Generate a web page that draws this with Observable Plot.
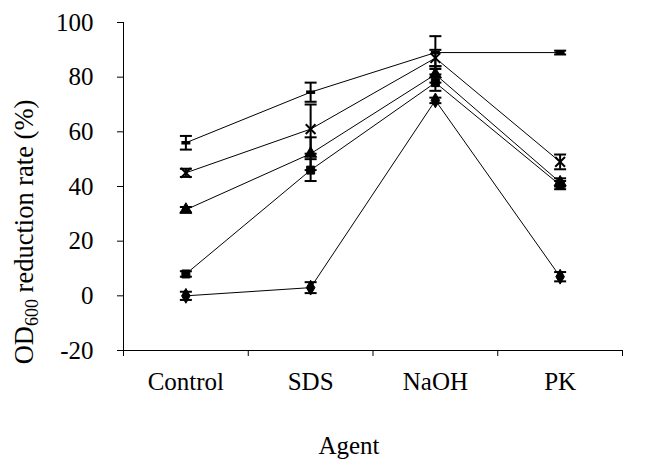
<!DOCTYPE html>
<html>
<head>
<meta charset="utf-8">
<script src="https://cdn.jsdelivr.net/npm/d3@7"></script>
<script src="https://cdn.jsdelivr.net/npm/@observablehq/plot@0.6"></script>
<style>
  html, body { margin: 0; padding: 0; background: white; }
  #chart svg { display: block; }
</style>
</head>
<body>
<div id="chart"></div>
<script>
const categories = ["Control", "SDS", "NaOH", "PK"];
const yTicks = [-20, 0, 20, 40, 60, 80, 100];
const seriesNames = ["Series 1", "Series 2", "Series 3", "Series 4", "Series 5"];
const s1 = [56, 74.5, 89, 89];
const s2 = [45, 61, 87, 49];
const s3 = [31.5, 52, 81, 41.5];
const s4 = [8, 46, 78, 40.5];
const s5 = [0, 3, 71.5, 7];
const e1 = [2.5, 3.5, 6, 0.7];
const e2 = [1.5, 9, 3, 2.7];
const e3 = [1, 6, 3, 1.5];
const e4 = [1, 4, 3, 1.5];
const e5 = [1.5, 2, 1, 1.7];
const xLabel = "Agent";
const yLabelMain = "OD";
const yLabelSub = "600";
const yLabelRest = " reduction rate (%)";

const FONT = "Liberation Serif";

const values = [s1, s2, s3, s4, s5];
const errors = [e1, e2, e3, e4, e5];
const data = [];
seriesNames.forEach((name, k) => {
  categories.forEach((c, i) => {
    data.push({series: name, cat: c, xc: i + 0.5, v: values[k][i], e: errors[k][i]});
  });
});

const hline = {
  draw(context, size) {
    const r = Math.sqrt(size / Math.PI);
    context.moveTo(-r, 0);
    context.lineTo(r, 0);
  }
};

const symbols = [hline, "times", "triangle", "square", "diamond"];
const centers = categories.map((c, i) => i + 0.5);
const edges = d3.range(categories.length + 1);

const markerMarks = seriesNames.map((name, k) => {
  const d = data.filter(r => r.series === name);
  const sym = symbols[k];
  if (sym === hline) {
    return Plot.dot(d, {x: "xc", y: "v", symbol: hline, r: 4.5, stroke: "black", strokeWidth: 3.5});
  } else if (sym === "times") {
    return Plot.dot(d, {x: "xc", y: "v", symbol: "times", r: 4.5, stroke: "black", strokeWidth: 2});
  } else {
    return Plot.dot(d, {x: "xc", y: "v", symbol: sym, r: 4.5, fill: "black", stroke: "black", strokeWidth: 1});
  }
});

const chart = Plot.plot({
  width: 654,
  height: 459,
  marginTop: 22,
  marginBottom: 109,
  marginLeft: 123,
  marginRight: 32,
  style: {fontFamily: FONT, fontSize: "25px", background: "white", color: "black"},
  x: {domain: [0, categories.length]},
  y: {domain: [-20, 100]},
  marks: [
    Plot.axisY({ticks: yTicks, tickSize: 6, tickPadding: 24, tickFormat: d => String(d), label: null, fontSize: 25}),
    Plot.axisX({ticks: edges, tickSize: 6, tickFormat: () => "", label: null}),
    Plot.axisX({ticks: centers, tickSize: 0, tickPadding: 22, tickFormat: v => categories[Math.floor(v)], label: null, fontSize: 25}),
    Plot.ruleX([0], {stroke: "black"}),
    Plot.ruleY([-20], {stroke: "black"}),
    Plot.line(data, {x: "xc", y: "v", z: "series", stroke: "black", strokeWidth: 1}),
    Plot.ruleX(data, {x: "xc", y1: d => d.v - d.e, y2: d => d.v + d.e, stroke: "black", strokeWidth: 2}),
    Plot.dot(data, {x: "xc", y: d => d.v + d.e, symbol: hline, r: 6, stroke: "black", strokeWidth: 2}),
    Plot.dot(data, {x: "xc", y: d => d.v - d.e, symbol: hline, r: 6, stroke: "black", strokeWidth: 2}),
    ...markerMarks
  ]
});

const svg = d3.select(chart);
svg.append("text")
  .attr("x", 349)
  .attr("y", 454)
  .attr("text-anchor", "middle")
  .attr("font-size", 25)
  .attr("fill", "black")
  .text(xLabel);

const yl = svg.append("text")
  .attr("transform", "translate(33,232) rotate(-90)")
  .attr("text-anchor", "middle")
  .attr("font-size", 26.5)
  .attr("fill", "black");
yl.append("tspan").text(yLabelMain);
yl.append("tspan").attr("font-size", 18).attr("dy", 5).text(yLabelSub);
yl.append("tspan").attr("dy", -5).text(yLabelRest);

svg.selectAll("g, text").attr("font-family", FONT);

document.getElementById("chart").appendChild(chart);
</script>
</body>
</html>
